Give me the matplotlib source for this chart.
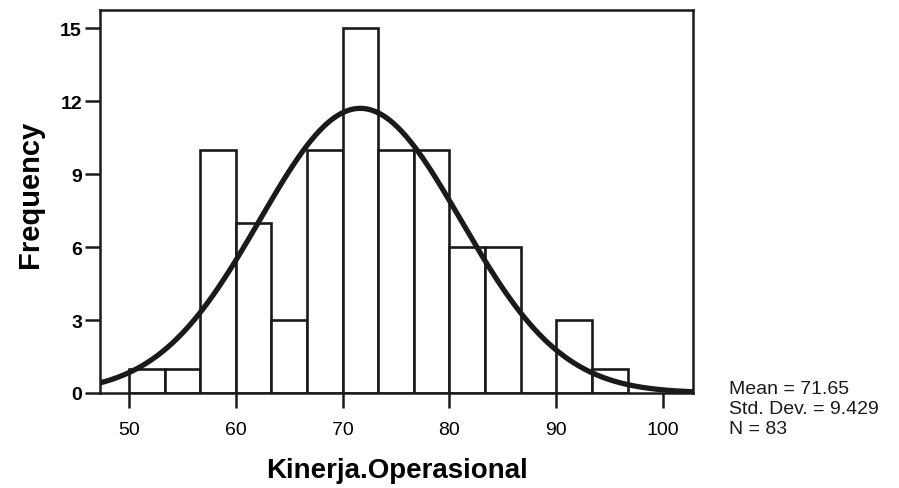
import numpy as np
import matplotlib
matplotlib.use("Agg")
import matplotlib.pyplot as plt

plt.rcParams['font.family'] = ['Liberation Sans', 'DejaVu Sans']

# histogram of Kinerja.Operasional, bins of width 10/3 starting at 50
bin_edges = [50 + k * 10 / 3 for k in range(15)]
counts = [1, 1, 10, 7, 3, 10, 15, 10, 10, 6, 6, 0, 3, 1]
mean = 71.65
std_dev = 9.429
n_cases = 83

y_ticks = [0, 3, 6, 9, 12, 15]
x_ticks = [50, 60, 70, 80, 90, 100]

fig = plt.figure(figsize=(8.99, 4.89), dpi=100)
ax = fig.add_axes([0.1112, 0.1943, 0.6597, 0.7832])

lefts = bin_edges[:-1]
widths = np.diff(bin_edges)
ax.bar(lefts, counts, width=widths, align='edge', facecolor='white',
       edgecolor='#1a1a1a', linewidth=1.9)

# fitted normal curve scaled to the counts
xs = np.linspace(47.28, 102.8, 400)
bw = widths[0]
ys = n_cases * bw / (std_dev * np.sqrt(2 * np.pi)) * np.exp(-0.5 * ((xs - mean) / std_dev) ** 2)
ax.plot(xs, ys, color='#1a1a1a', linewidth=3.8, solid_capstyle='round')

ax.set_xlim(47.28, 102.8)
ax.set_ylim(0, 15.75)
ax.set_xticks(x_ticks)
ax.set_yticks(y_ticks)
ax.tick_params(direction='out', length=11, width=1.8, color='#1a1a1a')
for lab in ax.get_yticklabels():
    lab.set_fontsize(14)
    lab.set_fontweight('bold')
for lab in ax.get_xticklabels():
    lab.set_fontsize(14)
ax.tick_params(axis='x', pad=9)
ax.tick_params(axis='y', pad=2)

for sp in ax.spines.values():
    sp.set_linewidth(1.8)
    sp.set_color('#1a1a1a')

ax.set_ylabel('Frequency', fontsize=21, fontweight='bold')
ax.yaxis.set_label_coords(-0.095, 0.52)
ax.set_xlabel('Kinerja.Operasional', fontsize=20, fontweight='bold', labelpad=14)

stats = [f'Mean = {mean}', f'Std. Dev. = {std_dev}', f'N = {n_cases}']
for i, s in enumerate(stats):
    fig.text(729 / 899, 1 - (390 + i * 20) / 489, s, fontsize=14,
             va='center', ha='left', color='#1a1a1a')

fig.savefig('out.png', dpi=100, facecolor='white')
